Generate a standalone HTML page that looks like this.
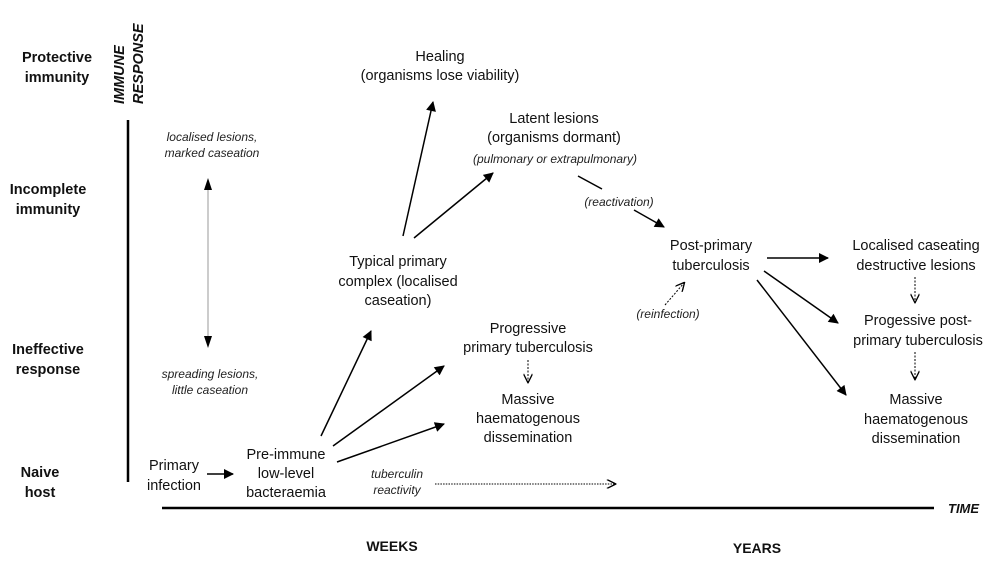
<!DOCTYPE html>
<html><head><meta charset="utf-8"><style>
html,body{margin:0;padding:0;background:#fff;}
svg{display:block;font-family:"Liberation Sans",Arial,sans-serif;}
.t{font-size:14.5px;fill:#111;text-anchor:middle;}
.i{font-size:12px;font-style:italic;fill:#222;text-anchor:middle;}
.b{font-size:14.5px;font-weight:bold;fill:#111;text-anchor:middle;}
</style></head><body>
<svg width="998" height="569" viewBox="0 0 998 569" xmlns="http://www.w3.org/2000/svg">
<defs>
<marker id="a" viewBox="0 0 10 10" refX="9" refY="5" markerWidth="15" markerHeight="10" markerUnits="userSpaceOnUse" orient="auto"><path d="M0,0 L10,5 L0,10 Z" fill="#000"/></marker>
<marker id="o" viewBox="0 0 10 10" refX="9" refY="5" markerWidth="10" markerHeight="9" markerUnits="userSpaceOnUse" orient="auto"><path d="M0,0 L10,5 L0,10" fill="none" stroke="#000" stroke-width="1.5"/></marker>
</defs>
<text class="b" x="57" y="62">Protective</text>
<text class="b" x="57" y="82">immunity</text>
<text class="b" x="48" y="194">Incomplete</text>
<text class="b" x="48" y="214">immunity</text>
<text class="b" x="48" y="354">Ineffective</text>
<text class="b" x="48" y="374">response</text>
<text class="b" x="40" y="477">Naive</text>
<text class="b" x="40" y="497">host</text>
<text x="0" y="0" transform="translate(124,104) rotate(-90)" style="font-size:14.5px;font-weight:bold;font-style:italic;fill:#111">IMMUNE</text>
<text x="0" y="0" transform="translate(143,104) rotate(-90)" style="font-size:14.5px;font-weight:bold;font-style:italic;fill:#111">RESPONSE</text>
<line x1="128" y1="120" x2="128" y2="482" stroke="#000" stroke-width="2.5"/>
<line x1="162" y1="508" x2="934" y2="508" stroke="#000" stroke-width="2.5"/>
<text x="948" y="513" style="font-size:13px;font-weight:bold;font-style:italic;fill:#111">TIME</text>
<text class="b" x="392" y="551" style="font-size:14px">WEEKS</text>
<text class="b" x="757" y="553" style="font-size:14px">YEARS</text>
<text class="i" x="212" y="141">localised lesions,</text>
<text class="i" x="212" y="157">marked caseation</text>
<line x1="208" y1="186" x2="208" y2="340" stroke="#bbb" stroke-width="1.5"/>
<path d="M208,178 L204,190 L212,190 Z" fill="#000"/>
<path d="M208,348 L204,336 L212,336 Z" fill="#000"/>
<text class="i" x="210" y="378">spreading lesions,</text>
<text class="i" x="210" y="394">little caseation</text>
<text class="t" x="174" y="470">Primary</text>
<text class="t" x="174" y="490">infection</text>
<line x1="207" y1="474" x2="233" y2="474" stroke="#000" stroke-width="1.5" marker-end="url(#a)"/>
<text class="t" x="286" y="459">Pre-immune</text>
<text class="t" x="286" y="478">low-level</text>
<text class="t" x="286" y="497">bacteraemia</text>
<line x1="321" y1="436" x2="371" y2="331" stroke="#000" stroke-width="1.5" marker-end="url(#a)"/>
<line x1="333" y1="446" x2="444" y2="366" stroke="#000" stroke-width="1.5" marker-end="url(#a)"/>
<line x1="337" y1="462" x2="444" y2="424" stroke="#000" stroke-width="1.5" marker-end="url(#a)"/>
<text class="t" x="398" y="266">Typical primary</text>
<text class="t" x="398" y="286">complex (localised</text>
<text class="t" x="398" y="305">caseation)</text>
<line x1="403" y1="236" x2="433" y2="102" stroke="#000" stroke-width="1.5" marker-end="url(#a)"/>
<line x1="414" y1="238" x2="493" y2="173" stroke="#000" stroke-width="1.5" marker-end="url(#a)"/>
<text class="t" x="440" y="61">Healing</text>
<text class="t" x="440" y="80">(organisms lose viability)</text>
<text class="t" x="554" y="123">Latent lesions</text>
<text class="t" x="554" y="142">(organisms dormant)</text>
<text class="i" x="555" y="163">(pulmonary or extrapulmonary)</text>
<line x1="578" y1="176" x2="602" y2="189" stroke="#000" stroke-width="1.5"/>
<text class="i" x="619" y="206">(reactivation)</text>
<line x1="634" y1="210" x2="664" y2="227" stroke="#000" stroke-width="1.5" marker-end="url(#a)"/>
<text class="t" x="711" y="250">Post-primary</text>
<text class="t" x="711" y="270">tuberculosis</text>
<line x1="665" y1="305" x2="684" y2="283" stroke="#000" stroke-width="1" stroke-dasharray="2,1.5" marker-end="url(#o)"/>
<text class="i" x="668" y="318">(reinfection)</text>
<line x1="767" y1="258" x2="828" y2="258" stroke="#000" stroke-width="1.5" marker-end="url(#a)"/>
<line x1="764" y1="271" x2="838" y2="323" stroke="#000" stroke-width="1.5" marker-end="url(#a)"/>
<line x1="757" y1="280" x2="846" y2="395" stroke="#000" stroke-width="1.5" marker-end="url(#a)"/>
<text class="t" x="916" y="250">Localised caseating</text>
<text class="t" x="916" y="270">destructive lesions</text>
<line x1="915" y1="277" x2="915" y2="302" stroke="#000" stroke-width="1" stroke-dasharray="2,1.5" marker-end="url(#o)"/>
<text class="t" x="918" y="325">Progessive post-</text>
<text class="t" x="918" y="345">primary tuberculosis</text>
<line x1="915" y1="352" x2="915" y2="379" stroke="#000" stroke-width="1" stroke-dasharray="2,1.5" marker-end="url(#o)"/>
<text class="t" x="916" y="404">Massive</text>
<text class="t" x="916" y="424">haematogenous</text>
<text class="t" x="916" y="443">dissemination</text>
<text class="t" x="528" y="333">Progressive</text>
<text class="t" x="528" y="352">primary tuberculosis</text>
<line x1="528" y1="360" x2="528" y2="382" stroke="#000" stroke-width="1" stroke-dasharray="2,1.5" marker-end="url(#o)"/>
<text class="t" x="528" y="404">Massive</text>
<text class="t" x="528" y="423">haematogenous</text>
<text class="t" x="528" y="442">dissemination</text>
<text class="i" x="397" y="478">tuberculin</text>
<text class="i" x="397" y="494">reactivity</text>
<line x1="435" y1="484" x2="615" y2="484" stroke="#000" stroke-width="1" stroke-dasharray="1.5,1.2" marker-end="url(#o)"/>
</svg>
</body></html>
